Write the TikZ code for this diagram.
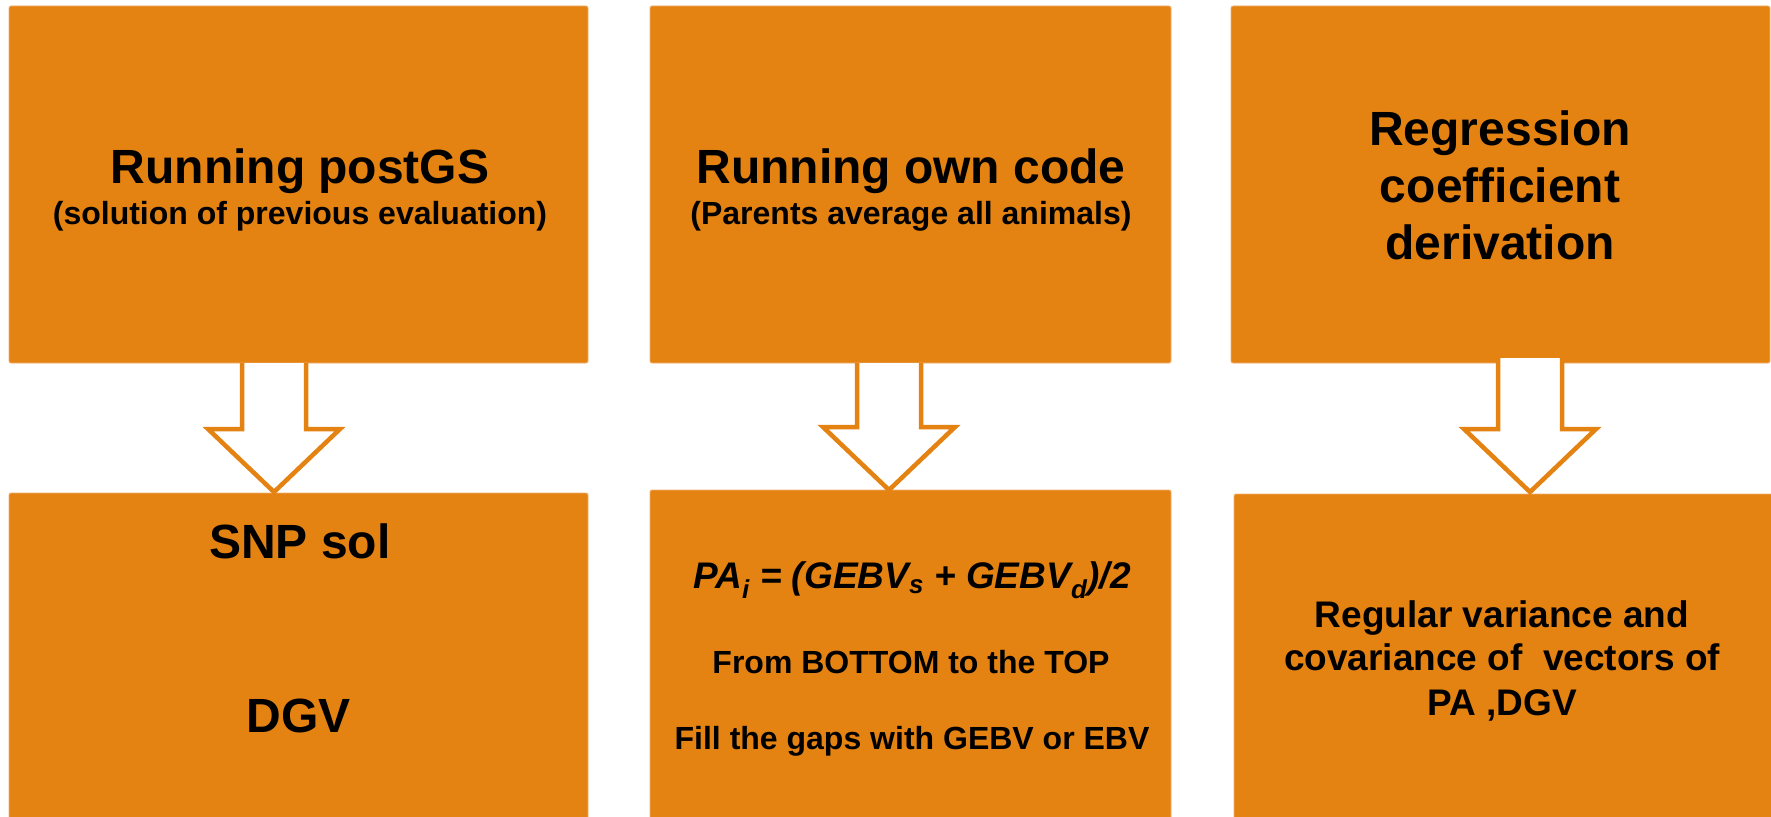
\documentclass[tikz,border=0pt]{standalone}
\usepackage{fontspec}
\setmainfont{Liberation Sans}
\usetikzlibrary{calc}

\definecolor{boxorange}{RGB}{228,130,18}
\definecolor{boxedge}{RGB}{240,176,112}

\tikzset{
  stage/.style={rectangle, rounded corners=2pt, fill=boxorange, draw=boxedge,
    line width=0.8pt, inner sep=0pt},
  blockarrow/.style={fill=white, draw=boxorange, line width=4.5pt, line join=miter},
  bigtxt/.style={inner sep=0pt, anchor=base, font=\bfseries\fontsize{48}{57}\selectfont},
  subtxt/.style={inner sep=0pt, anchor=base, font=\bfseries\fontsize{32}{38}\selectfont},
  midtxt/.style={inner sep=0pt, anchor=base, font=\bfseries\fontsize{37}{44}\selectfont},
}

% hollow block arrow from a start point (top of the shaft) to a tip point
\newcommand\blockarrow[2]{%
  \filldraw[blockarrow] let \p1=(#1), \p2=(#2) in
    (\x1-32pt,\y1) -- (\x1-32pt,\y2+63pt) -- (\x1-66pt,\y2+63pt) -- (\x2,\y2)
    -- (\x1+66pt,\y2+63pt) -- (\x1+32pt,\y2+63pt) -- (\x1+32pt,\y1);}

\begin{document}
\begin{tikzpicture}[x=1pt,y=-1pt]
\useasboundingbox (0,0) rectangle (1771,816);

% top row
\node[stage, minimum width=579pt, minimum height=357pt] (t1) at (298.5,184.5) {};
\node[stage, minimum width=521pt, minimum height=357pt] (t2) at (910.5,184.5) {};
\node[stage, minimum width=539pt, minimum height=357pt] (t3) at (1500.5,184.5) {};

% bottom row (runs off the lower edge)
\node[stage, minimum width=579pt, minimum height=340pt] (b1) at (298.5,663) {};
\node[stage, minimum width=521pt, minimum height=343pt] (b2) at (910.5,661.5) {};
\node[stage, minimum width=541pt, minimum height=339pt] (b3) at (1504.5,663.5) {};

% arrows between the rows
\coordinate (a1s) at (274,363);  \coordinate (a1t) at (274,492);
\coordinate (a2s) at (889,363);  \coordinate (a2t) at (889,490);
\coordinate (a3s) at (1530,358); \coordinate (a3t) at (1530,492);
\blockarrow{a1s}{a1t}
\blockarrow{a2s}{a2t}
\blockarrow{a3s}{a3t}

% top row texts
\node[bigtxt] (t1a) at (300,183) {Running postGS};
\node[subtxt] (t1b) at (300,224) {(solution of previous evaluation)};

\node[bigtxt] (t2a) at (911,183) {Running own code};
\node[subtxt] (t2b) at (911,224) {(Parents average all animals)};

\node[bigtxt] (t3a) at (1500,145) {Regression};
\node[bigtxt] (t3b) at (1500,202) {coefficient};
\node[bigtxt] (t3c) at (1500,259) {derivation};

% bottom row texts
\node[bigtxt] (b1a) at (300,558) {SNP sol};
\node[bigtxt] (b1b) at (299,732) {DGV};

\node[inner sep=0pt, anchor=base, font=\bfseries\itshape\fontsize{37}{44}\selectfont] (b2a) at (912,588)
  {PA\textsubscript{i} = (GEBV\textsubscript{s} + GEBV\textsubscript{d})/2};
\node[subtxt] (b2b) at (911,673) {From BOTTOM to the TOP};
\node[subtxt] (b2c) at (912,749) {Fill the gaps with GEBV or EBV};

\node[midtxt] (b3a) at (1502,627) {Regular variance and};
\node[midtxt] (b3b) at (1502,670) {covariance of\ \ vectors of};
\node[midtxt] (b3c) at (1502,715) {PA ,DGV};
\end{tikzpicture}
\end{document}
